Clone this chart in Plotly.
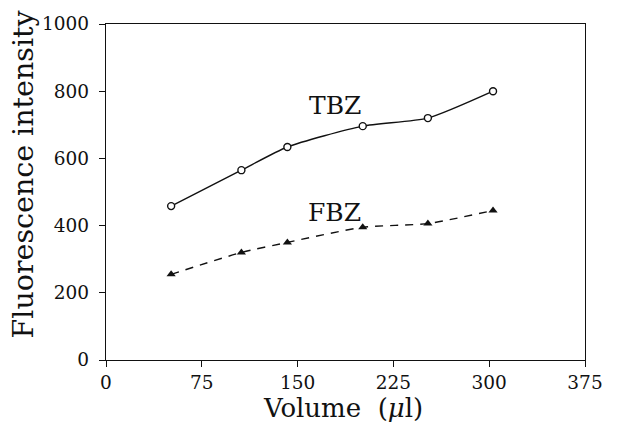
import plotly.graph_objects as go

# Data
volume_tbz = [51, 106, 142, 201, 252, 303]
intensity_tbz = [458, 565, 634, 696, 720, 800]
volume_fbz = [51, 106, 142, 201, 252, 303]
intensity_fbz = [255, 320, 350, 395, 406, 445]

x_ticks = [0, 75, 150, 225, 300, 375]
y_ticks = [0, 200, 400, 600, 800, 1000]

FONT = "DejaVu Serif"
INK = "#111111"

fig = go.Figure()

fig.add_trace(go.Scatter(
    x=volume_tbz, y=intensity_tbz, mode="lines+markers", name="TBZ",
    line=dict(color=INK, width=1.4, shape="spline", smoothing=0.6),
    marker=dict(symbol="circle", size=7, color="white",
                line=dict(color=INK, width=1.4)),
    showlegend=False,
))

fig.add_trace(go.Scatter(
    x=volume_fbz, y=intensity_fbz, mode="lines+markers", name="FBZ",
    line=dict(color=INK, width=1.4, dash="8px,7px", shape="spline", smoothing=0.6),
    marker=dict(symbol="triangle-up", size=8, color=INK),
    showlegend=False,
))

fig.add_annotation(x=179, y=756, xref="x", yref="y", text="TBZ", showarrow=False,
                   font=dict(family=FONT, size=25, color=INK))
fig.add_annotation(x=179, y=440, xref="x", yref="y", text="FBZ", showarrow=False,
                   font=dict(family=FONT, size=25, color=INK))

# Axis titles
fig.add_annotation(x=-0.172, y=0.554, xref="paper", yref="paper",
                   text="Fluorescence intensity", textangle=-90, showarrow=False,
                   xanchor="center", yanchor="middle",
                   font=dict(family=FONT, size=28.5, color=INK))
fig.add_annotation(x=0.495, y=-0.143, xref="paper", yref="paper",
                   text="Volume  (<i>μ</i>l)", showarrow=False,
                   xanchor="center", yanchor="middle",
                   font=dict(family=FONT, size=26, color=INK))

axis_common = dict(
    showline=True, linecolor=INK, linewidth=1.3, mirror=True,
    ticks="outside", ticklen=6, tickwidth=1.3, tickcolor=INK,
    showgrid=False, zeroline=False,
    tickfont=dict(family=FONT, size=18.5, color=INK),
)

fig.update_xaxes(range=[0, 375], tickvals=x_ticks, ticktext=[str(v) for v in x_ticks],
                 ticklabelstandoff=0, **axis_common)
fig.update_yaxes(range=[0, 1000], tickvals=y_ticks, ticktext=[str(v) for v in y_ticks],
                 ticklabelstandoff=6, **axis_common)

fig.update_layout(
    width=620, height=422,
    margin=dict(l=106, r=35, t=24, b=62),
    paper_bgcolor="white", plot_bgcolor="white",
    font=dict(family=FONT, color=INK),
)

fig.write_html("out.html")
